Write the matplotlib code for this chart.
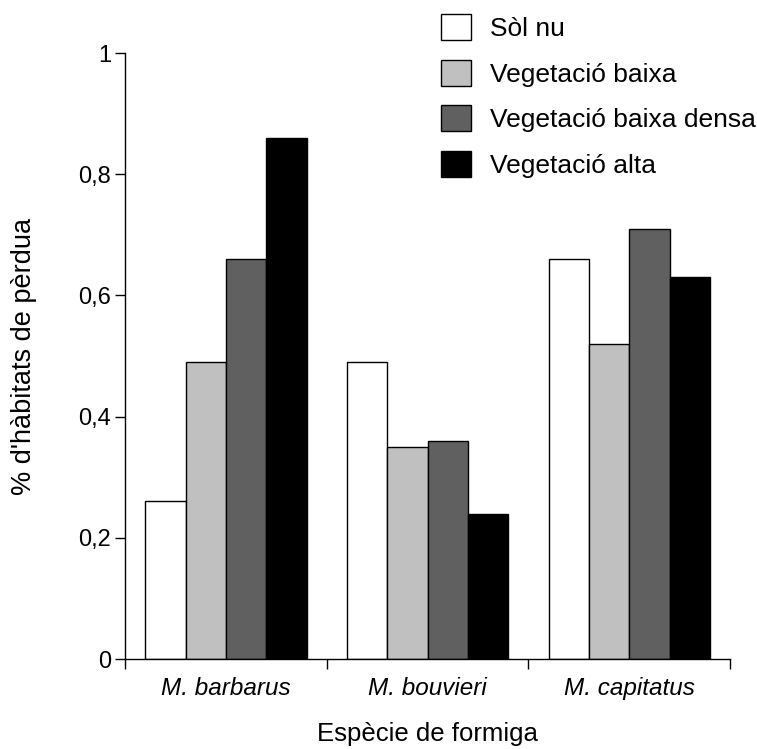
import matplotlib.pyplot as plt
import numpy as np

plt.rcParams['font.family'] = ['Liberation Sans', 'DejaVu Sans']

species = ['M. barbarus', 'M. bouvieri', 'M. capitatus']
habitats = ['Sòl nu', 'Vegetació baixa', 'Vegetació baixa densa', 'Vegetació alta']
colors = ['#ffffff', '#c0c0c0', '#606060', '#000000']

sol_nu = [0.26, 0.49, 0.66]
veg_baixa = [0.49, 0.35, 0.52]
veg_baixa_densa = [0.66, 0.36, 0.71]
veg_alta = [0.86, 0.24, 0.63]
series = [sol_nu, veg_baixa, veg_baixa_densa, veg_alta]

y_ticks = [0, 0.2, 0.4, 0.6, 0.8, 1]
y_tick_labels = ['0', '0,2', '0,4', '0,6', '0,8', '1']

fig = plt.figure(figsize=(7.57, 7.49), dpi=100)
ax = fig.add_axes([125 / 757, 1 - 659 / 749, 605 / 757, 606 / 749])

x = np.arange(len(species))
width = 0.2
for i, (values, label, color) in enumerate(zip(series, habitats, colors)):
    ax.bar(x + 0.1 + i * width, values, width, align='edge', color=color,
           edgecolor='black', linewidth=1, label=label)

ax.set_xlim(0, 3)
ax.set_ylim(0, 1)
for side in ['top', 'right']:
    ax.spines[side].set_visible(False)
ax.spines['left'].set_linewidth(1)
ax.spines['bottom'].set_linewidth(1)

ax.set_yticks(y_ticks)
ax.set_yticklabels(y_tick_labels, fontsize=17)
ax.tick_params(axis='y', direction='out', length=7, width=1, pad=3)

ax.set_xticks([0, 1, 2, 3])
ax.set_xticklabels([])
ax.tick_params(axis='x', which='major', direction='out', length=7, width=1)
ax.set_xticks(x + 0.5, minor=True)
ax.set_xticklabels(species, minor=True, fontsize=17.5, style='italic')
ax.tick_params(axis='x', which='minor', length=0, pad=13)

ax.set_xlabel('Espècie de formiga', fontsize=18.5, labelpad=16)
ax.set_ylabel("% d'hàbitats de pèrdua", fontsize=19.5, labelpad=30)

fig.legend(loc='upper left', bbox_to_anchor=(441 / 757, 1 - 14 / 749),
           frameon=False, fontsize=19, handlelength=1.15, handleheight=1.15,
           handletextpad=0.72, labelspacing=0.7, borderpad=0, borderaxespad=0)

fig.savefig('out.png', dpi=100)
